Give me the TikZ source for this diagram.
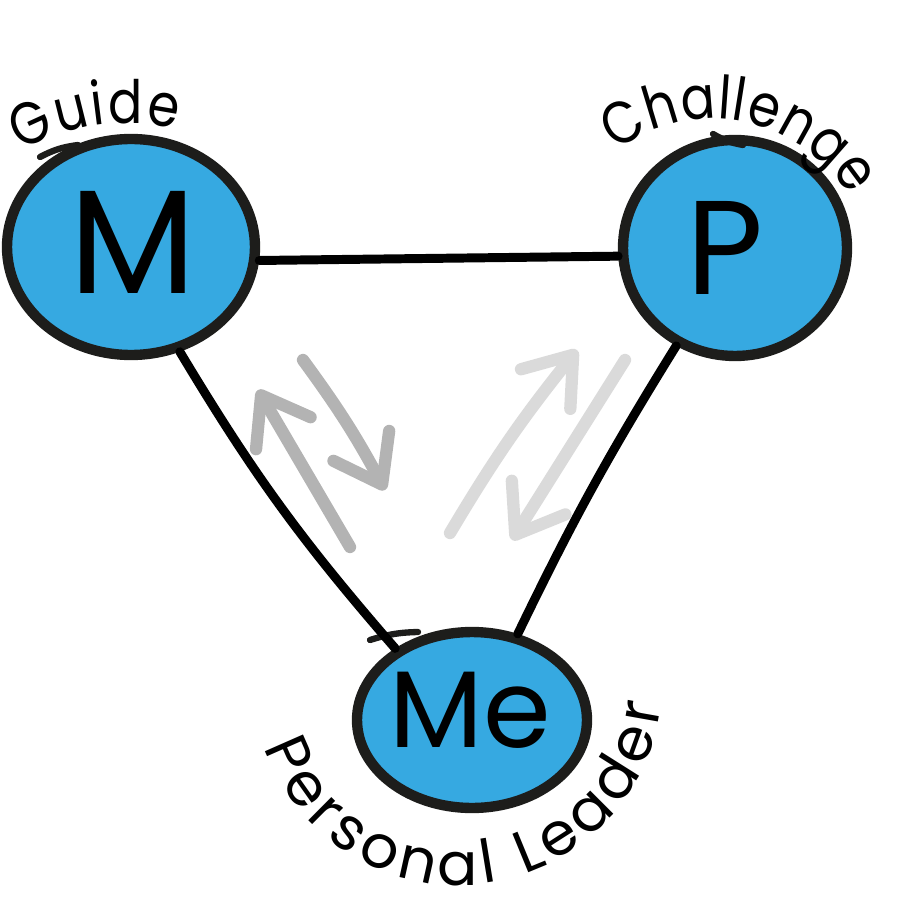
\documentclass[tikz,border=0pt]{standalone}
\usepackage{fontspec}
\usetikzlibrary{shapes.geometric,arrows.meta,decorations.text}
\newfontfamily\handfont{Poppins}
\newfontfamily\labelfont{Poppins}[FakeStretch=0.85]
\definecolor{blobblue}{HTML}{36A9E1}
\definecolor{ink}{HTML}{1D1D1B}
\definecolor{arrowdark}{HTML}{B3B3B3}
\definecolor{arrowlight}{HTML}{DADADA}
\begin{document}
\begin{tikzpicture}[x=0.02cm,y=0.02cm,
  blob/.style={ellipse, draw=ink, fill=blobblue, line width=5.9pt, inner sep=0pt},
  link/.style={draw=black, line width=5.1pt, line cap=round},
  penstroke/.style={draw=ink, line width=3.6pt, line cap=round},
  garrow/.style={line width=7pt, line cap=round, -{Straight Barb[length=25pt,width=36pt,round]}},
  letter/.style={inner sep=0pt, text=black},
  arclabel/.style={decorate, decoration={text along path, text align=fit to path}},
]
\useasboundingbox (0,-915) rectangle (902,0);

% circles
\node[blob, minimum width=4.96cm, minimum height=4.32cm] (M) at (131,-247) {};
\node[blob, minimum width=4.48cm, minimum height=4.32cm] (P) at (735,-248) {};
\node[blob, minimum width=4.6cm, minimum height=3.52cm] (Me) at (472,-720) {};

% pen overlap strokes
\coordinate (Ma) at (40,-157); \coordinate (Mb) at (78,-145);
\coordinate (Pa) at (713,-134); \coordinate (Pb) at (743,-145);
\coordinate (Mea) at (370,-640); \coordinate (Meb) at (418,-632);
\draw[penstroke] (Ma) to[bend left=10] (Mb);
\draw[penstroke] (Pa) to[bend right=10] (Pb);
\draw[penstroke] (Mea) to[bend left=8] (Meb);

% letters
\node[letter, font=\handfont\fontsize{84}{84}\selectfont] (Mtxt) at (133,-242) {M};
\node[letter, font=\handfont\fontsize{76}{76}\selectfont] (Ptxt) at (725,-248) {P};
\node[letter, font=\handfont\fontsize{62}{62}\selectfont] (Metxt) at (470,-710) {Me};

% connectors
\draw[link] (M.-6) -- (P.184);
\draw[link] (M.-65) to[bend right=5] (Me.137);
\draw[link] (P.-121) to[bend right=3] (Me.62);

% gray arrows
\coordinate (a1s) at (350,-547); \coordinate (a1e) at (258,-390);
\coordinate (a2s) at (303,-360); \coordinate (a2e) at (385,-490);
\coordinate (a3s) at (450,-533); \coordinate (a3e) at (577,-350);
\coordinate (a4s) at (625,-360); \coordinate (a4e) at (512,-540);
\draw[garrow, draw=arrowdark] (a1s) -- (a1e);
\draw[garrow, draw=arrowdark] (a2s) to[bend left=4] (a2e);
\draw[garrow, draw=arrowlight] (a3s) to[bend left=4] (a3e);
\draw[garrow, draw=arrowlight] (a4s) -- (a4e);

% arc labels
\path[arclabel, decoration={text={|\labelfont\fontsize{34}{34}\selectfont|Guide}}]
  ([shift={(120:210)}]126,-333) arc[start angle=120, end angle=76, radius=210];
\path[arclabel, decoration={text={|\labelfont\fontsize{34}{34}\selectfont|Challenge}}]
  ([shift={(127:160)}]712,-279) arc[start angle=127, end angle=31, radius=160];
\path[arclabel, decoration={text={|\handfont\fontsize{34}{34}\selectfont|Personal Leader}}]
  ([shift={(199:205)}]458,-680) arc[start angle=199, end angle=353, radius=205];
\end{tikzpicture}
\end{document}
